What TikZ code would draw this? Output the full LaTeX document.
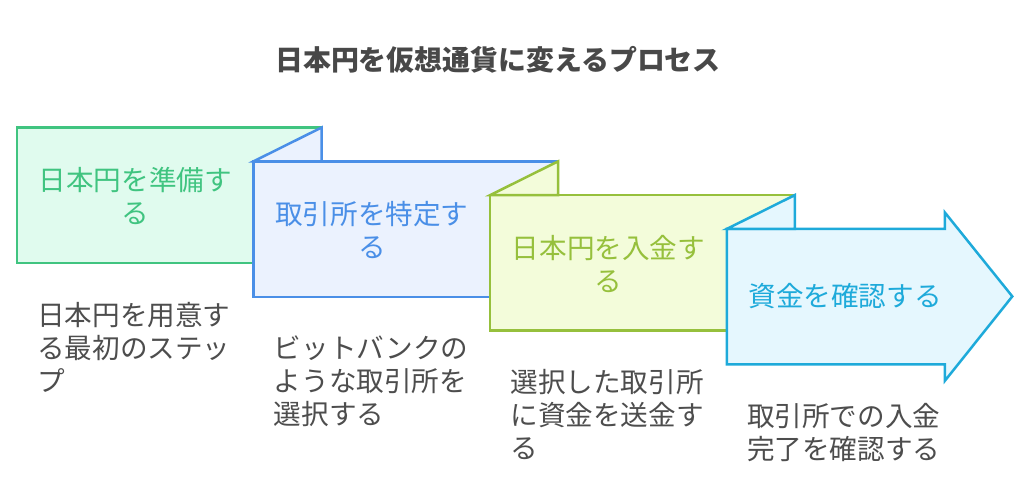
\documentclass[tikz,border=0pt]{standalone}
\usepackage{fontspec}
\setmainfont{Noto Sans CJK JP}
\usepackage{tikz}
\usetikzlibrary{positioning}
\definecolor{grnline}{RGB}{64,196,128}
\definecolor{grnfill}{RGB}{224,251,238}
\definecolor{bluline}{RGB}{74,143,231}
\definecolor{blufill}{RGB}{235,242,254}
\definecolor{limline}{RGB}{150,192,60}
\definecolor{limfill}{RGB}{243,252,218}
\definecolor{cynline}{RGB}{30,170,218}
\definecolor{cynfill}{RGB}{229,247,254}
\definecolor{notegray}{RGB}{77,77,77}
\definecolor{headgray}{RGB}{72,72,72}
\tikzset{
    stepbox/.style = {line width=2.5pt,line join=miter},
    steplabel/.style = {font=\fontsize{27.6}{33}\selectfont,align=center,inner sep=0},
    stepnote/.style = {font=\fontsize{27.6}{33}\selectfont,align=left,text=notegray,anchor=north west,inner sep=0},
    headline/.style = {font=\fontsize{27.9}{30}\selectfont\bfseries,text=headgray,inner sep=0}
}
\begin{document}
\begin{tikzpicture}[x=1pt,y=-1pt]
        \newcommand\hsep{236.6}
        \newcommand\vsep{33.8}
        \newcommand\bwd{304}
        \newcommand\bht{135.5}
        \newcommand\flap{68}
        \useasboundingbox (0,0) rectangle (1024,490);
        % Title
        \node[headline] (head) at (498,60) {日本円を仮想通貨に変えるプロセス};
        % Corners
        \foreach \i in {0,...,3}
            \coordinate (c\i) at ({17+\i*\hsep},{127.5+\i*\vsep});
        % Steps
        \draw[stepbox,draw=grnline,fill=grnfill] (c0) rectangle +(\bwd,\bht);
        \foreach \i/\ln/\fl in {1/bluline/blufill,2/limline/limfill} {
            \draw[stepbox,draw=\ln,fill=\fl] (c\i) rectangle +(\bwd,\bht);
            \draw[stepbox,draw=\ln,fill=\fl] (c\i) -- +(\flap,-\vsep) -- +(\flap,0) -- cycle;
        }
        \draw[stepbox,draw=cynline,fill=cynfill] (c3)
            -- +(218,0) -- +(218,-16.5) -- +(285.5,67.5)
            -- +(218,152) -- +(218,\bht) -- +(0,\bht) -- cycle;
        \draw[stepbox,draw=cynline,fill=cynfill] (c3) -- +(\flap,-\vsep) -- +(\flap,0) -- cycle;
        % Step labels
        \path (c0) ++(118.3,68.5) node[steplabel,text=grnline] (prep) {日本円を準備す\\る};
        \path (c1) ++(118.3,68.5) node[steplabel,text=bluline] (exch) {取引所を特定す\\る};
        \path (c2) ++(118.3,68.5) node[steplabel,text=limline] (depo) {日本円を入金す\\る};
        \path (c3) ++(118.3,67.5) node[steplabel,text=cynline] (conf) {資金を確認する};
        % Notes
        \path (c0) ++(20,174.5) node[stepnote] (prepnote) {日本円を用意す\\る最初のステッ\\プ};
        \path (c1) ++(20,174.5) node[stepnote] (exchnote) {ビットバンクの\\ような取引所を\\選択する};
        \path (c2) ++(20,174.5) node[stepnote] (deponote) {選択した取引所\\に資金を送金す\\る};
        \path (c3) ++(20,174.5) node[stepnote] (confnote) {取引所での入金\\完了を確認する};
    \end{tikzpicture}
\end{document}
